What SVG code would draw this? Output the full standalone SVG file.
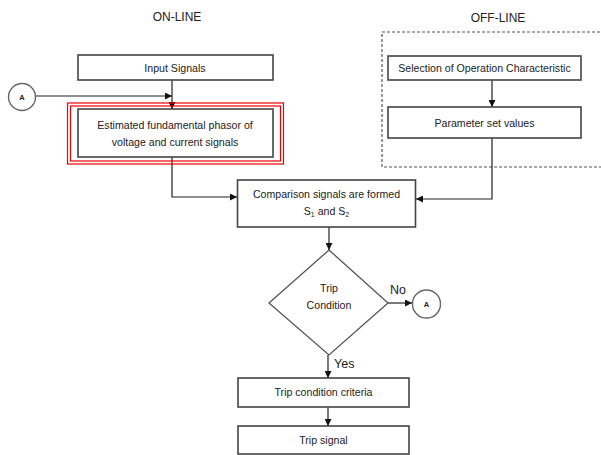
<svg xmlns="http://www.w3.org/2000/svg" width="601" height="455" viewBox="0 0 601 455">
<defs>
<marker id="ah" viewBox="0 0 10 10" refX="10" refY="5" markerWidth="7" markerHeight="7" orient="auto" markerUnits="userSpaceOnUse">
<path d="M0,0 L10,5 L0,10 z" fill="#111"/>
</marker>
<style>
.box{fill:#fff;stroke:#444;stroke-width:1.6}
.t{font-family:"Liberation Sans",Arial,sans-serif;font-size:10.6px;fill:#222;text-anchor:middle}
.h{font-family:"Liberation Sans",Arial,sans-serif;font-size:12px;fill:#222;text-anchor:middle}
.lbl{font-family:"Liberation Sans",Arial,sans-serif;font-size:12.5px;fill:#222}
.c{fill:#fff;stroke:#666;stroke-width:1.4}
.ct{font-family:"Liberation Sans",Arial,sans-serif;font-size:7.5px;font-weight:bold;fill:#223;text-anchor:middle}
.ln{fill:none;stroke:#222;stroke-width:1.2}
.red{fill:none;stroke:#e00;stroke-width:1.2}
</style>
</defs>
<rect width="601" height="455" fill="#fff"/>
<text class="h" x="177" y="21">ON-LINE</text>
<text class="h" x="498" y="22">OFF-LINE</text>
<rect x="382" y="32" width="230" height="135" fill="none" stroke="#555" stroke-width="1.2" stroke-dasharray="3,2"/>

<g id="connectors">
<line class="ln" x1="36" y1="96" x2="172" y2="96" marker-end="url(#ah)"/>
<line class="ln" x1="172" y1="80" x2="172" y2="109" marker-end="url(#ah)"/>
<polyline class="ln" points="172,157 172,197 237,197" marker-end="url(#ah)"/>
<line class="ln" x1="492" y1="80" x2="492" y2="107" marker-end="url(#ah)"/>
<polyline class="ln" points="492,138 492,199 416,199" marker-end="url(#ah)"/>
<line class="ln" x1="329" y1="227" x2="329" y2="250" marker-end="url(#ah)"/>
<line class="ln" x1="388" y1="303" x2="412" y2="303" marker-end="url(#ah)"/>
<line class="ln" x1="328" y1="355" x2="328" y2="378" marker-end="url(#ah)"/>
<line class="ln" x1="328" y1="407" x2="328" y2="426" marker-end="url(#ah)"/>
<text class="lbl" x="390" y="294">No</text>
<text class="lbl" x="334" y="368">Yes</text>
</g>

<g id="circleA1">
<circle class="c" cx="22" cy="97" r="13.5"/>
<text class="ct" x="22" y="100">A</text>
</g>
<g id="input">
<rect class="box" x="78" y="55" width="195" height="25"/>
<text class="t" x="175" y="71.5">Input Signals</text>
</g>
<g id="estimated">
<rect class="red" x="67.5" y="103" width="216" height="61"/>
<rect class="red" x="70.5" y="106" width="210" height="55"/>
<rect class="box" x="78" y="109" width="195" height="48"/>
<text class="t" x="175" y="129">Estimated fundamental phasor of</text>
<text class="t" x="175" y="146">voltage and current signals</text>
</g>
<g id="selection">
<rect class="box" x="388" y="56" width="193" height="24"/>
<text class="t" x="484.5" y="72">Selection of Operation Characteristic</text>
</g>
<g id="parameter">
<rect class="box" x="388" y="107" width="193" height="31"/>
<text class="t" x="484.5" y="126.5">Parameter set values</text>
</g>
<g id="comparison">
<rect class="box" x="237.5" y="180" width="178" height="47"/>
<text class="t" x="326.5" y="197.5">Comparison signals are formed</text>
<text class="t" x="326.5" y="214.5">S<tspan font-size="7px" dy="2">1</tspan><tspan dy="-2"> and S</tspan><tspan font-size="7px" dy="2">2</tspan></text>
</g>
<g id="trip-condition">
<polygon points="329,250 388,303 329,355 269,303" fill="#fff" stroke="#555" stroke-width="1.3"/>
<text class="t" x="329" y="291.5">Trip</text>
<text class="t" x="329" y="308.5">Condition</text>
</g>
<g id="circleA2">
<circle class="c" cx="426.5" cy="304" r="14"/>
<text class="ct" x="426.5" y="307">A</text>
</g>
<g id="criteria">
<rect class="box" x="238" y="378" width="171" height="29"/>
<text class="t" x="323.5" y="396">Trip condition criteria</text>
</g>
<g id="tripsignal">
<rect class="box" x="238" y="426" width="171" height="28"/>
<text class="t" x="323.5" y="444">Trip signal</text>
</g>
</svg>
